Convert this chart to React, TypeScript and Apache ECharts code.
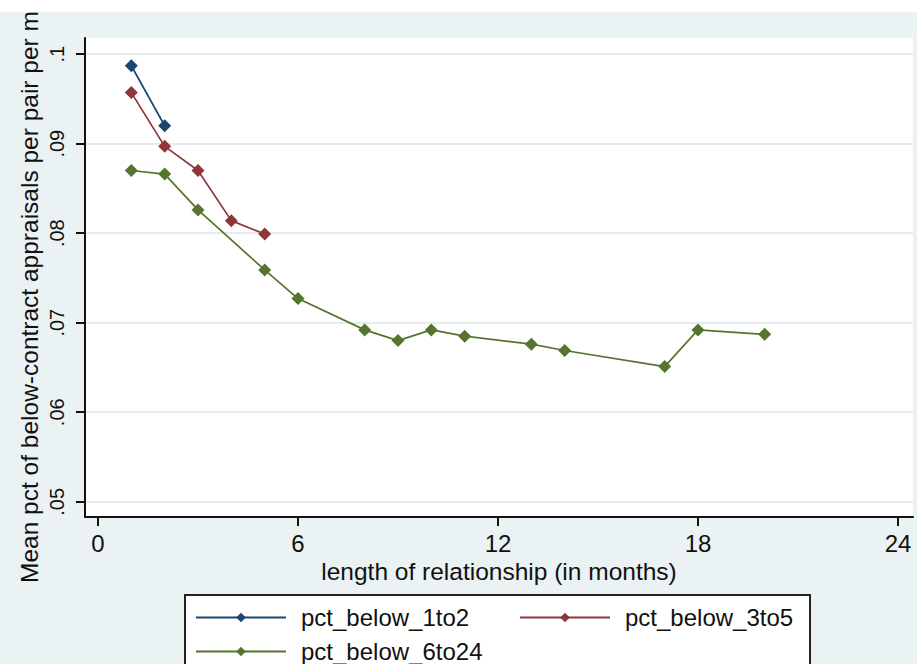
import React, { useEffect, useRef } from "react";
import * as echarts from "echarts";

// ---- data ----
const xTicks = [0, 6, 12, 18, 24];
const yTicks = [0.05, 0.06, 0.07, 0.08, 0.09, 0.1];
const yTickLabels = [".05", ".06", ".07", ".08", ".09", ".1"];

const seriesNames = ["pct_below_1to2", "pct_below_3to5", "pct_below_6to24"];

const months1to2 = [1, 2];
const pct1to2 = [0.0987, 0.092];

const months3to5 = [1, 2, 3, 4, 5];
const pct3to5 = [0.0957, 0.0897, 0.087, 0.0814, 0.0799];

const months6to24 = [1, 2, 3, 5, 6, 8, 9, 10, 11, 13, 14, 17, 18, 20];
const pct6to24 = [
  0.087, 0.0866, 0.0826, 0.0759, 0.0727, 0.0692, 0.068, 0.0692, 0.0685,
  0.0676, 0.0669, 0.0651, 0.0692, 0.0687,
];

const xTitle = "length of relationship (in months)";
const yTitle = "Mean pct of below-contract appraisals per pair per m";

const colors = ["#1a476f", "#90353b", "#55752f"];
const FONT = "'Liberation Sans', Arial, sans-serif";

const pairs = (xs: number[], ys: number[]) => xs.map((x, i) => [x, ys[i]]);

export default function App() {
  const ref = useRef<HTMLDivElement>(null);
  useEffect(() => {
    if (!ref.current) return;
    const chart = echarts.init(ref.current, undefined, { renderer: "svg" });
    const mkSeries = (name: string, xs: number[], ys: number[], color: string) => ({
      name,
      type: "line",
      data: pairs(xs, ys),
      symbol: "diamond",
      symbolSize: 13,
      showSymbol: true,
      color,
      itemStyle: { color },
      lineStyle: { color, width: 1.7 },
      emphasis: { disabled: true },
    });
    const legendCommon = {
      left: 195,
      orient: "horizontal",
      padding: 0,
      itemWidth: 90,
      itemHeight: 12,
      itemGap: 0,
      selectedMode: false,
      textStyle: {
        fontSize: 24,
        fontFamily: FONT,
        color: "#111",
        lineHeight: 24,
        width: 218,
        padding: [0, 0, 0, 10],
      },
    };
    chart.setOption({
      animation: false,
      backgroundColor: "#eaf2f3",
      textStyle: { fontFamily: FONT },
      grid: {
        left: 85,
        top: 38,
        right: 4,
        bottom: 147,
        show: true,
        backgroundColor: "#ffffff",
        borderWidth: 0,
        containLabel: false,
        outerBoundsMode: "none",
      },
      xAxis: {
        type: "value",
        min: -0.39,
        max: 24.45,
        axisLine: { onZero: false, lineStyle: { color: "#111", width: 2 } },
        axisTick: {
          show: true,
          length: 9,
          customValues: xTicks,
          lineStyle: { color: "#111", width: 2 },
        },
        axisLabel: {
          customValues: xTicks,
          fontSize: 24,
          lineHeight: 18,
          fontFamily: FONT,
          color: "#111",
          margin: 17,
        },
        splitLine: { show: false },
        name: xTitle,
        nameLocation: "middle",
        nameGap: 44,
        nameMoveOverlap: false,
        nameTextStyle: {
          fontSize: 24.5,
          lineHeight: 20,
          fontFamily: FONT,
          color: "#111",
        },
      },
      yAxis: {
        type: "value",
        min: 0.0483,
        max: 0.1018,
        axisLine: { show: true, onZero: false, lineStyle: { color: "#111", width: 2 } },
        axisTick: {
          show: true,
          length: 9,
          customValues: yTicks,
          lineStyle: { color: "#111", width: 2 },
        },
        axisLabel: {
          customValues: yTicks,
          rotate: 90,
          fontSize: 20,
          fontFamily: FONT,
          color: "#111",
          margin: 18,
          formatter: (v: number) => {
            const i = yTicks.findIndex((t) => Math.abs(t - v) < 1e-6);
            return i >= 0 ? yTickLabels[i] : "";
          },
        },
        splitLine: {
          show: true,
          lineStyle: { color: "#e4ecef", width: 2 },
        },
      },
      legend: [
        { ...legendCommon, top: 605.5, data: [seriesNames[0], seriesNames[1]] },
        { ...legendCommon, top: 639.5, data: [seriesNames[2]] },
      ],
      graphic: [
        {
          type: "rect",
          shape: { x: 0, y: 0, width: 917, height: 12 },
          style: { fill: "#ffffff" },
          silent: true,
        },
        {
          type: "rect",
          shape: { x: 185, y: 595, width: 625, height: 100 },
          style: { fill: "#ffffff", stroke: "#222", lineWidth: 2 },
          silent: true,
        },
        {
          type: "text",
          x: 29,
          y: 297,
          rotation: Math.PI / 2,
          style: {
            text: yTitle,
            fontSize: 24.5,
            fontFamily: FONT,
            fill: "#111",
            align: "center",
            verticalAlign: "middle",
          },
          silent: true,
        },
      ],
      series: [
        mkSeries(seriesNames[0], months1to2, pct1to2, colors[0]),
        mkSeries(seriesNames[1], months3to5, pct3to5, colors[1]),
        mkSeries(seriesNames[2], months6to24, pct6to24, colors[2]),
      ],
    });
    return () => chart.dispose();
  }, []);
  return (
    <div
      ref={ref}
      style={{ position: "absolute", left: 0, top: 0, width: 917, height: 664 }}
    />
  );
}
